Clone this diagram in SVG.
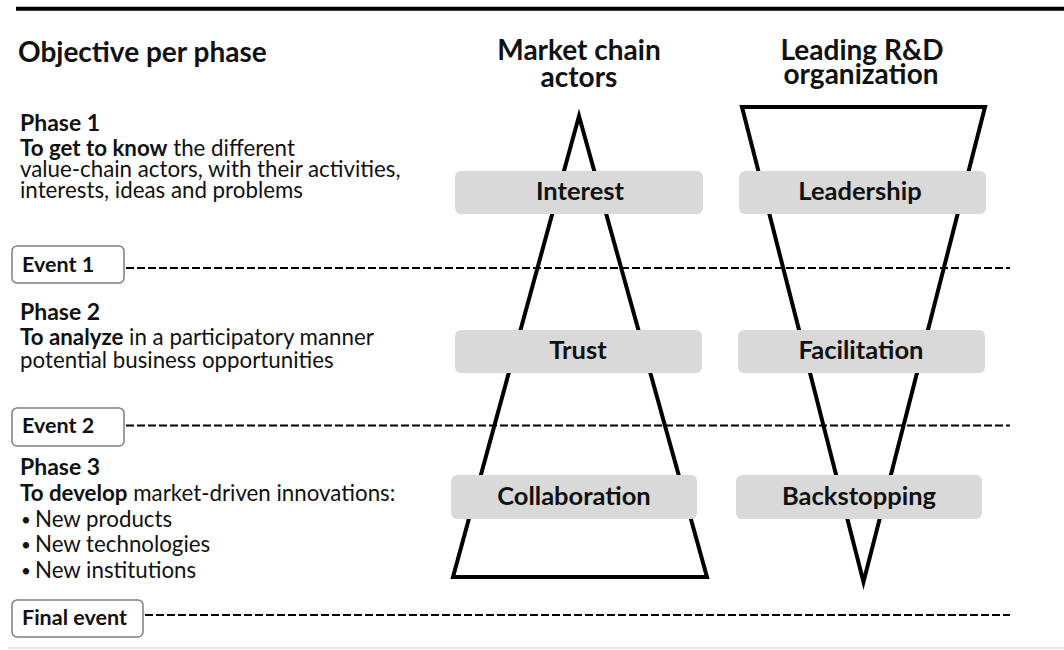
<svg xmlns="http://www.w3.org/2000/svg" width="1064" height="650" viewBox="0 0 1064 650">
<style>
text{font-family:Lato,"Liberation Sans",sans-serif;fill:#111}
.h{font-size:28px;font-weight:bold}
.col{font-size:28px;font-weight:bold;text-anchor:middle}
.ph{font-size:23px;font-weight:bold}
.b{font-size:22.3px}
.bul{font-size:17px}
.bb{font-weight:bold}
.lbl{font-size:25.5px;font-weight:bold;text-anchor:middle}
.ev{font-size:21.5px;font-weight:bold}
.box{fill:#d9d9d9}
.evbox{fill:#fff;stroke:#7f7f7f;stroke-width:1.5}
.tri{fill:none;stroke:#000;stroke-width:4;stroke-linejoin:miter;stroke-miterlimit:10}
.dash{stroke:#000;stroke-width:2;stroke-dasharray:8 3;fill:none}
</style>
<rect width="1064" height="650" fill="#fff"/>
<line x1="16" y1="8.7" x2="1064" y2="8.7" stroke="#000" stroke-width="4"/>
<line x1="8" y1="648" x2="1064" y2="648" stroke="#e6e6e6" stroke-width="2"/>

<g id="headers">
<text class="h" x="18" y="62">Objective per phase</text>
<text class="col" x="579" y="60">Market chain</text>
<text class="col" x="579" y="87">actors</text>
<text class="col" x="862" y="60">Leading R&amp;D</text>
<text class="col" x="861" y="84">organization</text>
</g>

<g id="phase1">
<text class="ph" x="20" y="131">Phase 1</text>
<text class="b" x="20" y="156"><tspan class="bb">To get to know</tspan> the different</text>
<text class="b" x="20" y="177">value-chain actors, with their activities,</text>
<text class="b" x="20" y="198">interests, ideas and problems</text>
</g>
<g id="phase2">
<text class="ph" x="20" y="320">Phase 2</text>
<text class="b" x="20" y="345"><tspan class="bb">To analyze</tspan> in a participatory manner</text>
<text class="b" x="20" y="368">potential business opportunities</text>
</g>
<g id="phase3">
<text class="ph" x="20" y="475">Phase 3</text>
<text class="b" x="20" y="501"><tspan class="bb">To develop</tspan> market-driven innovations:</text>
<text class="bul" x="21" y="526">•</text><text class="b" x="35" y="527">New products</text>
<text class="bul" x="21" y="551">•</text><text class="b" x="35" y="552">New technologies</text>
<text class="bul" x="21" y="577">•</text><text class="b" x="35" y="578">New institutions</text>
</g>

<g id="market-triangle">
<polygon class="tri" points="579,116 707,577 453,577"/>
</g>
<g id="rd-triangle">
<polygon class="tri" points="742,107 985,107 863.5,582"/>
</g>

<g id="connectors">
<line class="dash" x1="126" y1="268" x2="1010" y2="268"/>
<line class="dash" x1="126" y1="425.5" x2="1010" y2="425.5"/>
<line class="dash" x1="145" y1="615" x2="1010" y2="615"/>
</g>

<g id="event1">
<rect class="evbox" x="12" y="246" width="112" height="37" rx="5"/>
<text class="ev" x="22" y="272">Event 1</text>
</g>
<g id="event2">
<rect class="evbox" x="12" y="408" width="112" height="38" rx="5"/>
<text class="ev" x="22" y="433">Event 2</text>
</g>
<g id="final-event">
<rect class="evbox" x="12" y="600" width="131" height="37" rx="5"/>
<text class="ev" x="22" y="625">Final event</text>
</g>

<g id="interest">
<rect class="box" x="455" y="171" width="248" height="43" rx="6"/>
<text class="lbl" x="580" y="200">Interest</text>
</g>
<g id="leadership">
<rect class="box" x="739" y="171" width="247" height="43" rx="6"/>
<text class="lbl" x="860" y="200">Leadership</text>
</g>
<g id="trust">
<rect class="box" x="455" y="330" width="247" height="43" rx="6"/>
<text class="lbl" x="578" y="359">Trust</text>
</g>
<g id="facilitation">
<rect class="box" x="738" y="330" width="247" height="43" rx="6"/>
<text class="lbl" x="861" y="359">Facilitation</text>
</g>
<g id="collaboration">
<rect class="box" x="451" y="475" width="246" height="44" rx="6"/>
<text class="lbl" x="574" y="505">Collaboration</text>
</g>
<g id="backstopping">
<rect class="box" x="736" y="475" width="246" height="44" rx="6"/>
<text class="lbl" x="859" y="505">Backstopping</text>
</g>
</svg>
